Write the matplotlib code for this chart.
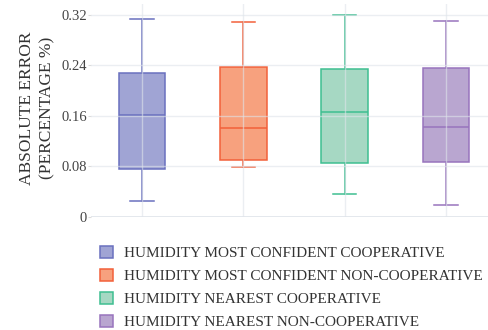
import matplotlib.pyplot as plt
from matplotlib.patches import Patch

plt.rcParams['font.family'] = ['Liberation Serif', 'DejaVu Serif']

labels = ['HUMIDITY MOST CONFIDENT COOPERATIVE',
          'HUMIDITY MOST CONFIDENT NON-COOPERATIVE',
          'HUMIDITY NEAREST COOPERATIVE',
          'HUMIDITY NEAREST NON-COOPERATIVE']
whislo = [0.025, 0.079, 0.0365, 0.0186]
q1 = [0.0752, 0.090, 0.0847, 0.0863]
med = [0.161, 0.141, 0.166, 0.142]
q3 = [0.2276, 0.238, 0.234, 0.2355]
whishi = [0.313, 0.309, 0.320, 0.310]
edge_colors = ['#6a70bf', '#f2603a', '#3ebf91', '#9874bd']
fill_colors = ['#a0a4d4', '#f7a17e', '#a6d8c3', '#b9a6d0']

stats = []
for i in range(4):
    stats.append({'whislo': whislo[i], 'q1': q1[i], 'med': med[i],
                  'q3': q3[i], 'whishi': whishi[i], 'fliers': []})

fig = plt.figure(figsize=(4.89, 3.30), dpi=100)
ax = fig.add_axes([91.5 / 489, 1 - 216.7 / 330, 405 / 489, 212.7 / 330])

bp = ax.bxp(stats, positions=range(4), widths=0.46, patch_artist=True,
            showfliers=False, manage_ticks=False)
for i in range(4):
    bp['boxes'][i].set_facecolor(fill_colors[i])
    bp['boxes'][i].set_edgecolor(edge_colors[i])
    bp['boxes'][i].set_linewidth(1.1)
    bp['medians'][i].set_color(edge_colors[i])
    bp['medians'][i].set_linewidth(1.1)
    for k in (2 * i, 2 * i + 1):
        bp['whiskers'][k].set_color(edge_colors[i])
        bp['whiskers'][k].set_linewidth(1.1)
        bp['caps'][k].set_color(edge_colors[i])
        bp['caps'][k].set_linewidth(1.1)
        bp['caps'][k].set_xdata([i - 0.115, i + 0.115])

ax.set_xlim(-0.5, 3.5)
ax.set_ylim(0, 0.3376)
ax.set_yticks([0, 0.08, 0.16, 0.24, 0.32])
ax.set_yticklabels(['0', '0.08', '0.16', '0.24', '0.32'])
ax.set_xticks(range(4))
ax.set_xticklabels([])
ax.tick_params(axis='x', length=0)
ax.tick_params(axis='y', length=2.5, width=0.8, color='#dddddd',
               labelsize=10.5, labelcolor='#444444', pad=0.6)
for y in [0.08, 0.16, 0.24, 0.32]:
    ax.axhline(y, color='#dfe4ea', lw=1, zorder=5, alpha=0.6)
for x in range(4):
    ax.axvline(x, color='#dfe4ea', lw=1, zorder=5, alpha=0.6)
ax.axhline(0, color='#dfe4ea', lw=1.2, zorder=1)
for s in ax.spines.values():
    s.set_visible(False)

ax.set_ylabel('ABSOLUTE ERROR\n(PERCENTAGE %)', fontsize=12.5, color='#333333',
              linespacing=1.3)
ax.yaxis.set_label_coords((55 - 91.5) / 405, (216.7 - 108) / 212.7)

handles = [Patch(facecolor=fill_colors[i], edgecolor=edge_colors[i], lw=1.1)
           for i in range(4)]
fig.legend(handles, labels, loc='upper left', bbox_to_anchor=(100 / 489, 1 - 246 / 330),
           frameon=False, fontsize=11, handlelength=0.85, handleheight=0.85,
           handletextpad=0.75, labelspacing=0.56, borderaxespad=0, borderpad=0,
           labelcolor='#333333')

fig.savefig('out.png', dpi=100)
